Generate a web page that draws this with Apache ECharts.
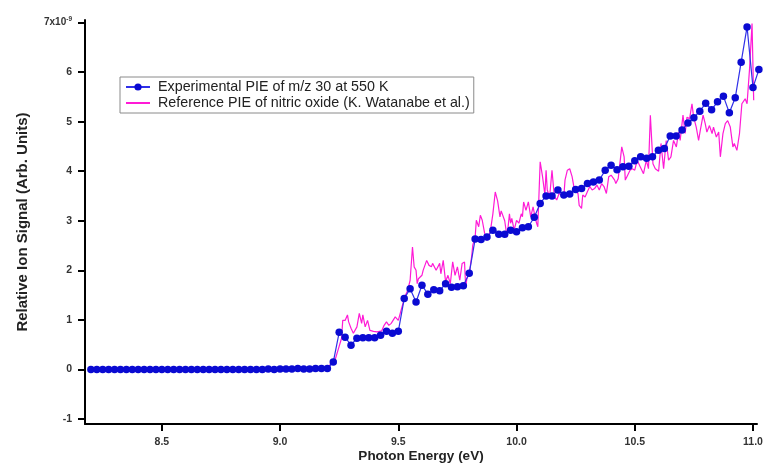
<!DOCTYPE html>
<html>
<head>
<meta charset="utf-8">
<script src="https://cdn.jsdelivr.net/npm/echarts@6/dist/echarts.min.js"></script>
<style>
  html, body { margin: 0; padding: 0; background: #fff; }
  #chart { width: 763px; height: 466px; }
</style>
</head>
<body>
<div id="chart"></div>
<script>
// experimental PIE, m/z 30 at 550 K (sampling grid 8.2 eV, step 0.025 eV)
var expStart = 8.2
var expStep = 0.025
var expSignal = [
  0, 0, 0, 0, 0, 0, 0, 0, 0, 0,
  0, 0, 0, 0, 0, 0, 0, 0, 0, 0,
  0, 0, 0, 0, 0, 0, 0, 0, 0, 0,
  0.01, 0, 0.01, 0.01, 0.01, 0.02, 0.01, 0.01, 0.02, 0.02,
  0.02, 0.15, 0.75, 0.65, 0.49, 0.63, 0.64, 0.64, 0.64, 0.69,
  0.77, 0.73, 0.77, 1.43, 1.63, 1.36, 1.70, 1.52, 1.61, 1.59,
  1.73, 1.66, 1.67, 1.69, 1.94, 2.63, 2.62, 2.67, 2.81, 2.73,
  2.73, 2.81, 2.78, 2.86, 2.88, 3.07, 3.35, 3.50, 3.50, 3.62,
  3.52, 3.54, 3.63, 3.65, 3.75, 3.78, 3.82, 4.02, 4.12, 4.03,
  4.09, 4.10, 4.21, 4.29, 4.26, 4.29, 4.42, 4.46, 4.71, 4.71,
  4.83, 4.97, 5.08, 5.21, 5.37, 5.24, 5.40, 5.51, 5.18, 5.48,
  6.20, 6.91, 5.69, 6.05
]

// reference PIE of nitric oxide (K. Watanabe et al.)
var refEnergy = [
  9.20, 9.21, 9.23, 9.245, 9.26, 9.265, 9.275, 9.285, 9.29, 9.30,
  9.31, 9.325, 9.335, 9.345, 9.35, 9.36, 9.37, 9.38, 9.395, 9.41,
  9.43, 9.44, 9.45, 9.46, 9.47, 9.487, 9.50, 9.505, 9.518, 9.527,
  9.54, 9.55, 9.56, 9.567, 9.575, 9.58, 9.585, 9.60, 9.605, 9.62,
  9.63, 9.64, 9.645, 9.66, 9.675, 9.68, 9.69, 9.70, 9.71, 9.72,
  9.73, 9.74, 9.75, 9.76, 9.77, 9.78, 9.785, 9.79, 9.80, 9.81,
  9.815, 9.825, 9.83, 9.84, 9.847, 9.855, 9.865, 9.875, 9.89, 9.90,
  9.91, 9.92, 9.93, 9.935, 9.95, 9.96, 9.97, 9.975, 9.98, 9.99,
  10.00, 10.01, 10.02, 10.025, 10.03, 10.04, 10.05, 10.06, 10.07, 10.08,
  10.085, 10.09, 10.10, 10.11, 10.12, 10.125, 10.13, 10.14, 10.15, 10.16,
  10.17, 10.18, 10.19, 10.20, 10.205, 10.215, 10.225, 10.235, 10.245, 10.25,
  10.26, 10.265, 10.275, 10.28, 10.29, 10.30, 10.31, 10.32, 10.33, 10.34,
  10.35, 10.36, 10.37, 10.38, 10.39, 10.40, 10.405, 10.415, 10.42, 10.43,
  10.445, 10.455, 10.46, 10.47, 10.48, 10.49, 10.50, 10.51, 10.523, 10.537,
  10.549, 10.558, 10.566, 10.577, 10.587, 10.601, 10.611, 10.622, 10.633, 10.643,
  10.653, 10.664, 10.676, 10.685, 10.692, 10.704, 10.713, 10.721, 10.732, 10.742,
  10.749, 10.76, 10.77, 10.777, 10.789, 10.798, 10.805, 10.816, 10.827, 10.833,
  10.845, 10.855, 10.862, 10.873, 10.883, 10.893, 10.904, 10.915, 10.921, 10.932,
  10.943, 10.953, 10.967, 10.975, 10.986, 10.996, 11.003
]
var refSignal = [
  0.00, 0.09, 0.15, 0.39, 0.63, 0.99, 0.99, 1.10, 0.96, 0.83,
  0.73, 0.86, 1.13, 0.93, 1.10, 0.86, 0.99, 0.79, 0.77, 0.76,
  0.78, 0.89, 0.96, 0.89, 0.93, 1.06, 0.99, 0.96, 1.30, 1.46,
  1.60, 1.80, 2.47, 2.07, 2.00, 1.73, 1.83, 1.90, 2.00, 2.20,
  2.10, 2.07, 2.14, 2.00, 2.14, 1.93, 2.20, 1.77, 1.90, 1.73,
  2.17, 1.90, 2.07, 1.80, 2.14, 2.17, 1.67, 1.83, 1.93, 2.27,
  2.51, 2.67, 3.01, 2.88, 3.11, 3.01, 2.75, 2.60, 2.81, 3.14,
  3.58, 3.40, 3.08, 3.20, 3.00, 2.67, 3.14, 2.95, 3.05, 2.81,
  3.01, 2.95, 3.14, 3.08, 3.38, 3.21, 3.38, 3.08, 3.28, 3.04,
  2.95, 2.88, 4.19, 3.89, 3.52, 4.02, 3.62, 3.48, 4.02, 3.48,
  3.42, 3.55, 3.52, 3.48, 3.82, 4.02, 4.05, 3.89, 3.62, 3.59,
  3.55, 3.31, 3.25, 3.52, 3.48, 3.59, 3.69, 3.62, 3.65, 3.72,
  3.62, 3.75, 3.69, 3.55, 3.89, 3.92, 3.89, 3.82, 3.75, 3.85,
  4.49, 4.29, 3.82, 3.92, 4.02, 4.05, 4.02, 4.22, 4.09, 3.95,
  4.22, 4.05, 5.13, 4.15, 4.05, 4.00, 4.56, 4.05, 4.62, 4.22,
  4.29, 4.62, 4.49, 4.79, 4.62, 5.13, 4.76, 5.09, 5.06, 5.36,
  5.09, 4.89, 4.62, 4.82, 5.13, 4.96, 4.79, 4.92, 4.76, 4.89,
  4.69, 4.79, 4.29, 4.76, 4.96, 5.02, 4.89, 4.49, 4.56, 4.42,
  4.76, 5.36, 5.46, 5.36, 6.10, 6.98, 5.43
]

var xTicks = [8.5, 9.0, 9.5, 10.0, 10.5, 11.0]
var yTicks = [-1, 0, 1, 2, 3, 4, 5, 6, 7]

var expData = []
for (var i = 0; i < expSignal.length; i++) {
  expData.push([+(expStart + i * expStep).toFixed(3), expSignal[i]])
}
var refData = []
for (var j = 0; j < refEnergy.length; j++) {
  refData.push([refEnergy[j], refSignal[j]])
}

var font = '"Liberation Sans", Arial, sans-serif'
var chart = echarts.init(document.getElementById('chart'))

chart.setOption({
  animation: false,
  backgroundColor: '#fff',
  textStyle: { fontFamily: font },
  grid: { left: 85, right: 6, top: 20, bottom: 42, containLabel: false, outerBoundsMode: 'none' },
  legend: {
    orient: 'vertical',
    left: 120,
    top: 77,
    padding: [3, 4, 3, 5],
    itemGap: 2,
    itemWidth: 24,
    itemHeight: 9,
    borderColor: '#8a8a8a',
    borderWidth: 1,
    borderRadius: 0,
    textStyle: { fontFamily: font, fontSize: 14.3, color: '#222', padding: [0, 0, 0, 3] },
    data: [
      { name: 'Experimental PIE of m/z 30 at 550 K' },
      {
        name: 'Reference PIE of nitric oxide (K. Watanabe et al.)',
        itemStyle: { color: 'rgba(0,0,0,0)', borderWidth: 0 }
      }
    ]
  },
  xAxis: {
    type: 'value',
    min: 8.175,
    max: 11.017,
    name: 'Photon Energy (eV)',
    nameLocation: 'middle',
    nameGap: 25,
    nameMoveOverlap: false,
    nameTextStyle: { fontFamily: font, fontSize: 13.5, fontWeight: 'bold', color: '#222' },
    axisLine: { onZero: false, lineStyle: { color: '#000', width: 2 } },
    axisTick: { show: true, inside: false, length: 7, lineStyle: { width: 2, color: '#000' }, customValues: xTicks },
    axisLabel: {
      customValues: xTicks,
      margin: 13,
      fontSize: 10.5,
      fontWeight: 'bold',
      color: '#333',
      formatter: function (v) { return v.toFixed(1) }
    },
    splitLine: { show: false }
  },
  yAxis: {
    type: 'value',
    min: -1.1,
    max: 7.05,
    name: 'Relative Ion Signal (Arb. Units)',
    nameLocation: 'middle',
    nameGap: 55,
    nameRotate: 90,
    nameMoveOverlap: false,
    nameTextStyle: { fontFamily: font, fontSize: 15, fontWeight: 'bold', color: '#222' },
    axisLine: { onZero: false, lineStyle: { color: '#000', width: 2 } },
    axisTick: { show: true, inside: false, length: 7, lineStyle: { width: 2, color: '#000' }, customValues: yTicks },
    axisLabel: {
      customValues: yTicks,
      margin: 13,
      fontSize: 10.5,
      fontWeight: 'bold',
      color: '#333',
      formatter: function (v) {
        if (v === 7) return '{b|7x10}{s|-9}'
        return String(v)
      },
      rich: {
        b: { fontSize: 10, fontWeight: 'bold', color: '#333' },
        s: { fontSize: 6.5, fontWeight: 'bold', color: '#333', padding: [0, 0, 7, 0] }
      }
    },
    splitLine: { show: false }
  },
  series: [
    {
      name: 'Experimental PIE of m/z 30 at 550 K',
      type: 'line',
      data: expData,
      z: 3,
      clip: false,
      symbol: 'circle',
      symbolSize: 7.5,
      showSymbol: true,
      itemStyle: { color: '#0a0ad2' },
      lineStyle: { color: '#3030e8', width: 1.2 }
    },
    {
      name: 'Reference PIE of nitric oxide (K. Watanabe et al.)',
      type: 'line',
      data: refData,
      z: 2,
      clip: false,
      symbol: 'none',
      itemStyle: { color: '#ff1ad6' },
      lineStyle: { color: '#ff1ad6', width: 1.2 }
    }
  ]
})
</script>
</body>
</html>
